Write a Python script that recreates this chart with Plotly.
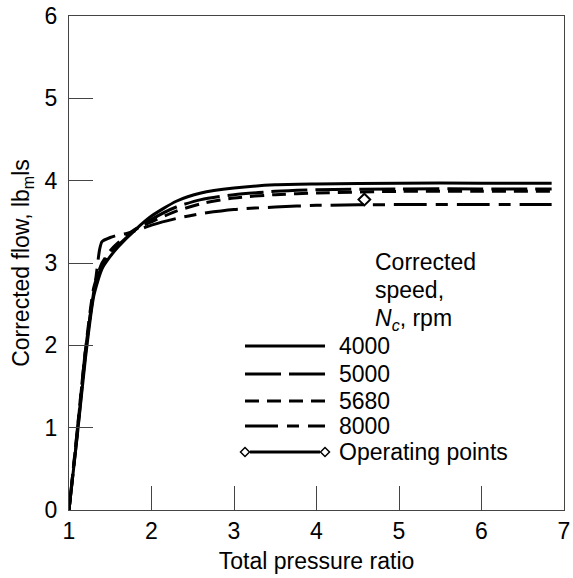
import plotly.graph_objects as go

# ---- data ----
pr_4000 = [1.0, 1.1, 1.2, 1.3, 1.4, 1.5, 1.6, 1.8, 2.0, 2.3, 2.6, 3.0, 3.5, 4.0, 5.0, 6.0, 6.85]
flow_4000 = [0.0, 0.9, 1.85, 2.6, 2.93, 3.08, 3.2, 3.40, 3.57, 3.75, 3.85, 3.91, 3.95, 3.96, 3.97, 3.97, 3.97]

pr_5000 = [1.0, 1.1, 1.2, 1.3, 1.4, 1.5, 1.6, 1.8, 2.0, 2.3, 2.6, 3.0, 3.5, 4.0, 5.0, 6.0, 6.85]
flow_5000 = [0.0, 0.92, 1.9, 2.65, 2.97, 3.12, 3.22, 3.40, 3.53, 3.68, 3.77, 3.83, 3.87, 3.89, 3.90, 3.90, 3.90]

pr_5680 = [1.0, 1.1, 1.2, 1.3, 1.4, 1.5, 1.6, 1.8, 2.0, 2.3, 2.6, 3.0, 3.5, 4.0, 5.0, 6.0, 6.85]
flow_5680 = [0.0, 0.95, 1.95, 2.7, 3.0, 3.15, 3.25, 3.41, 3.50, 3.63, 3.72, 3.79, 3.83, 3.85, 3.87, 3.87, 3.87]

pr_8000 = [1.0, 1.1, 1.2, 1.3, 1.33, 1.37, 1.40, 1.5, 1.6, 1.7, 1.8, 2.0, 2.3, 2.6, 3.0, 3.5, 4.0, 5.0, 6.0, 6.85]
flow_8000 = [0.0, 0.97, 1.95, 2.65, 2.85, 3.16, 3.26, 3.31, 3.34, 3.36, 3.39, 3.46, 3.54, 3.60, 3.65, 3.68, 3.70, 3.71, 3.71, 3.71]

op_pr = [4.58]
op_flow = [3.77]

speed_labels = ["4000", "5000", "5680", "8000"]
op_label = "Operating points"
x_ticks = [1, 2, 3, 4, 5, 6, 7]
y_ticks = [0, 1, 2, 3, 4, 5, 6]

FONT = "Liberation Sans, Arial, sans-serif"
FS = 23
W, H = 573, 578
L, R, T, B = 69, 9, 16, 68
PW, PH = W - L - R, H - T - B

dashes = ["solid", "36px,8px", "14px,8px", "33px,9px,12px,9px"]
series = [(pr_4000, flow_4000), (pr_5000, flow_5000), (pr_5680, flow_5680), (pr_8000, flow_8000)]

fig = go.Figure()
for (xs, ys), d, name in zip(series, dashes, speed_labels):
    fig.add_trace(go.Scatter(x=xs, y=ys, mode="lines", name=name, showlegend=False,
                             line=dict(color="black", width=3, dash=d, shape="spline", smoothing=0.6)))
fig.add_trace(go.Scatter(x=op_pr, y=op_flow, mode="markers", name=op_label, showlegend=False,
                         marker=dict(symbol="diamond-open", size=9, color="black", line=dict(width=2))))


def px(xp):
    return (xp - L) / PW


def py(yp):
    return (T + PH - yp) / PH


shapes = []
annotations = []
# legend title
for txt, yc in [("Corrected", 262), ("speed,", 290), ("<i>N<sub>c</sub></i>, rpm", 319)]:
    annotations.append(dict(x=px(373), y=py(yc), xref="paper", yref="paper", text=txt, showarrow=False,
                            xanchor="left", yanchor="middle", font=dict(family=FONT, size=FS, color="black")))
# legend entries
rows = [346, 374, 401, 426, 452]
for lab, d, yc in zip(speed_labels, dashes, rows[:4]):
    shapes.append(dict(type="line", xref="paper", yref="paper", x0=px(245), x1=px(325), y0=py(yc), y1=py(yc),
                       line=dict(color="black", width=3, dash=d)))
    annotations.append(dict(x=px(337), y=py(yc), xref="paper", yref="paper", text=lab, showarrow=False,
                            xanchor="left", yanchor="middle", font=dict(family=FONT, size=FS, color="black")))
yc = rows[4]
shapes.append(dict(type="line", xref="paper", yref="paper", x0=px(250), x1=px(320), y0=py(yc), y1=py(yc),
                   line=dict(color="black", width=3)))
for cx in (245, 325):
    s = 4.5
    path = "M {},{} L {},{} L {},{} L {},{} Z".format(px(cx - s), py(yc), px(cx), py(yc - s), px(cx + s), py(yc),
                                                       px(cx), py(yc + s))
    shapes.append(dict(type="path", xref="paper", yref="paper", path=path, fillcolor="white",
                       line=dict(color="black", width=1.5)))
annotations.append(dict(x=px(337), y=py(yc), xref="paper", yref="paper", text=op_label, showarrow=False,
                        xanchor="left", yanchor="middle", font=dict(family=FONT, size=FS, color="black")))

axis_common = dict(showgrid=False, zeroline=False, showline=True, linecolor="#444", linewidth=1.2,
                   mirror=True, ticks="inside", ticklen=24, tickwidth=1.2, tickcolor="#444",
                   automargin=False,
                   tickfont=dict(family=FONT, size=FS, color="black"))

fig.update_layout(
    width=W, height=H, margin=dict(l=L, r=R, t=T, b=B),
    paper_bgcolor="white", plot_bgcolor="white",
    xaxis=dict(range=[1, 7], tickvals=x_ticks, ticktext=[str(v) for v in x_ticks],
               title=dict(text="Total pressure ratio", font=dict(family=FONT, size=FS, color="black"), standoff=10),
               **axis_common),
    yaxis=dict(range=[0, 6], tickvals=y_ticks, ticktext=[str(v) for v in y_ticks], ticklabelstandoff=6,
               title=dict(text="Corrected flow, lb<sub>m</sub>ls", font=dict(family=FONT, size=FS, color="black"),
                          standoff=8),
               **axis_common),
    shapes=shapes, annotations=annotations, showlegend=False,
)

fig.write_html("out.html", config={"displayModeBar": False},
               post_script="document.body.style.margin='0px';document.body.style.overflow='hidden';")
